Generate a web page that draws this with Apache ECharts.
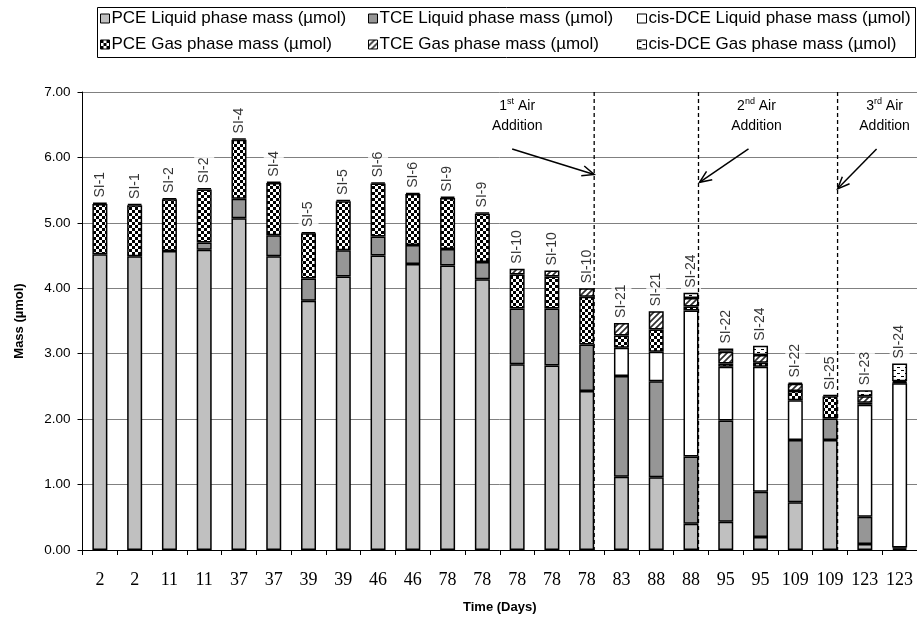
<!DOCTYPE html>
<html>
<head>
<meta charset="utf-8">
<script src="https://cdn.jsdelivr.net/npm/echarts@6/dist/echarts.min.js"></script>
<style>
html,body{margin:0;padding:0;background:#fff;}
#chart{width:917px;height:619px;}
</style>
</head>
<body>
<div id="chart"></div>
<script>
// ---- data ----
const days = ['2','2','11','11','37','37','39','39','46','46','78','78','78','78','78','83','88','88','95','95','109','109','123','123'];
const sampleIds = ['SI-1','SI-1','SI-2','SI-2','SI-4','SI-4','SI-5','SI-5','SI-6','SI-6','SI-9','SI-9','SI-10','SI-10','SI-10','SI-21','SI-21','SI-24','SI-22','SI-24','SI-22','SI-25','SI-23','SI-24'];
const pceLiquid = [4.52,4.49,4.57,4.59,5.07,4.49,3.81,4.18,4.50,4.37,4.35,4.14,2.84,2.82,2.43,1.12,1.11,0.40,0.43,0.20,0.73,1.68,0.09,0.02];
const tceLiquid = [0,0,0,0.11,0.30,0.32,0.34,0.40,0.29,0.29,0.25,0.26,0.85,0.87,0.71,1.54,1.47,1.03,1.55,0.69,0.95,0.33,0.42,0.02];
const cisLiquid = [0,0,0,0,0,0,0,0,0,0,0,0,0,0,0,0.43,0.45,2.23,0.82,1.91,0.61,0,1.71,2.51];
const pceGas    = [0.77,0.78,0.79,0.81,0.90,0.80,0.69,0.75,0.81,0.78,0.78,0.74,0.52,0.49,0.73,0.19,0.34,0.06,0.05,0.06,0.14,0.34,0.03,0.01];
const tceGas    = [0.02,0.02,0.02,0.02,0.02,0.02,0.02,0.02,0.02,0.02,0.02,0.02,0.09,0.09,0.13,0.19,0.28,0.13,0.18,0.12,0.11,0.02,0.10,0.02];
const cisGas    = [0,0,0,0,0,0,0,0,0,0,0,0,0,0,0,0,0,0.08,0.05,0.14,0.02,0,0.09,0.27];
const yTicks = [0,1,2,3,4,5,6,7];
const airAdditions = [
  {label:'1', sup:'st', afterIndex:14},
  {label:'2', sup:'nd', afterIndex:17},
  {label:'3', sup:'rd', afterIndex:21}
];

// ---- patterns ----
function pattern(kind){
  const c = document.createElement('canvas');
  const g = c.getContext('2d');
  if(kind==='checker'){
    c.width=6;c.height=6;
    g.fillStyle='#fff';g.fillRect(0,0,6,6);
    g.fillStyle='#000';g.fillRect(0,0,3,3);g.fillRect(3,3,3,3);
  } else if(kind==='hatch'){
    c.width=6;c.height=6;
    g.fillStyle='#fff';g.fillRect(0,0,6,6);
    g.strokeStyle='#303030';g.lineWidth=1.7;
    g.beginPath();
    g.moveTo(-1,7);g.lineTo(7,-1);
    g.moveTo(-1,1);g.lineTo(1,-1);
    g.moveTo(5,7);g.lineTo(7,5);
    g.stroke();
  } else if(kind==='dash'){
    c.width=8;c.height=6;
    g.fillStyle='#fff';g.fillRect(0,0,8,6);
    g.fillStyle='#000';
    g.fillRect(1,1,3,1);g.fillRect(5,4,3,1);
  }
  return {image:c, repeat:'repeat'};
}

const seriesDefs = [
  {name:'PCE Liquid phase mass (\u00b5mol)', data:pceLiquid, color:'#c0c0c0'},
  {name:'TCE Liquid phase mass (\u00b5mol)', data:tceLiquid, color:'#969696'},
  {name:'cis-DCE Liquid phase mass (\u00b5mol)', data:cisLiquid, color:'#ffffff'},
  {name:'PCE Gas phase mass (\u00b5mol)', data:pceGas, color:pattern('checker')},
  {name:'TCE Gas phase mass (\u00b5mol)', data:tceGas, color:pattern('hatch')},
  {name:'cis-DCE Gas phase mass (\u00b5mol)', data:cisGas, color:pattern('dash')}
];
const totals = days.map((d,i)=>seriesDefs.reduce((s,sd)=>s+sd.data[i],0));

const BAR_W = 15;
const series = seriesDefs.map(sd=>({
  name: sd.name,
  type:'bar',
  stack:'mass',
  barWidth: BAR_W,
  data: sd.data.map(v=> v>0 ? v : null),
  itemStyle:{color: sd.color, borderColor:'#000', borderWidth:1.5},
  emphasis:{disabled:true},
  z:3
}));
series.push({
  name:'labels',
  type:'scatter',
  data: totals.map((t,i)=>[i,t]),
  symbolSize:0,
  silent:true,
  z:4,
  label:{
    show:true, position:'top', rotate:90, align:'left', verticalAlign:'middle',
    distance:2,
    formatter:p=>sampleIds[p.dataIndex],
    fontFamily:'Liberation Sans, Arial', fontSize:14, color:'#000',
    backgroundColor:'#fff', padding:[3,3,3,3]
  }
});

const FONT = 'Liberation Sans, Arial';
// legend layout: 3 columns x 2 rows inside a framed box
const legendCols = [100, 368, 637];
const legendRows = [10, 36];
const legends = seriesDefs.map((sd,i)=>({
  data:[sd.name],
  left: legendCols[i%3], top: legendRows[Math.floor(i/3)],
  padding:0, itemWidth:9, itemHeight:9, itemGap:0,
  selectedMode:false, icon:'rect',
  itemStyle:{borderColor:'#000', borderWidth:1},
  textStyle:{fontFamily:FONT, fontSize:17, color:'#000', padding:[0,0,0,-3]}
}));

const chart = echarts.init(document.getElementById('chart'), null, {renderer:'canvas'});
chart.setOption({
  animation:false,
  backgroundColor:'#fff',
  legend: legends,
  grid:{left:82.5, right:-3, top:92, bottom:59, containLabel:false},
  xAxis:{
    type:'category',
    data: days,
    name:'Time (Days)', nameLocation:'middle', nameGap:51,
    nameTextStyle:{fontFamily:FONT, fontWeight:'bold', fontSize:13, color:'#000'},
    axisLine:{lineStyle:{color:'#000', width:1}},
    axisTick:{show:true, interval:0, length:5, lineStyle:{color:'#000'}},
    axisLabel:{interval:0, margin:21, fontFamily:'Liberation Serif, Times New Roman', fontSize:18, color:'#000'},
    splitLine:{show:false}
  },
  yAxis:{
    type:'value', min:yTicks[0], max:yTicks[yTicks.length-1], interval:1,
    name:'Mass (\u00b5mol)', nameLocation:'middle', nameGap:57,
    nameTextStyle:{fontFamily:FONT, fontWeight:'bold', fontSize:13, color:'#000'},
    axisLine:{show:true, lineStyle:{color:'#000', width:1}},
    axisTick:{show:true, length:5, lineStyle:{color:'#000'}},
    axisLabel:{margin:12, formatter:v=>v.toFixed(2), fontFamily:FONT, fontSize:13.5, color:'#000'},
    splitLine:{show:true, lineStyle:{color:'#808080', width:1}}
  },
  series: series
});

// ---- annotations (positioned from the axes) ----
function px(i, v){ return chart.convertToPixel({gridIndex:0}, [i, v]); }
const graphics = [
  {type:'rect', z:0, silent:true, shape:{x:97.5, y:7.5, width:818, height:50},
   style:{fill:'#fff', stroke:'#000', lineWidth:1}}
];
const arrowSpec = [
  {dxStart:-82, vStart:6.13, dxEnd:0, vEnd:5.74, dxText:-77},
  {dxStart:50, vStart:6.13, dxEnd:1, vEnd:5.62, dxText:58},
  {dxStart:39, vStart:6.13, dxEnd:0, vEnd:5.52, dxText:47}
];
airAdditions.forEach((a,k)=>{
  const top = px(a.afterIndex, 7), bot = px(a.afterIndex, 0);
  const x = top[0] + BAR_W/2;
  graphics.push({type:'line', z:100, shape:{x1:x, y1:top[1], x2:x, y2:bot[1]},
    style:{stroke:'#000', lineWidth:1.3, lineDash:[4,3]}});
  const s = arrowSpec[k];
  const ys = px(0, s.vStart)[1], ye = px(0, s.vEnd)[1];
  const x1 = x + s.dxStart, x2 = x + s.dxEnd;
  graphics.push({type:'line', z:100, shape:{x1:x1, y1:ys, x2:x2, y2:ye}, style:{stroke:'#000', lineWidth:1.5}});
  const ang = Math.atan2(ye-ys, x2-x1), L = 13, sp = 0.4;
  graphics.push({type:'polyline', z:100, shape:{points:[
    [x2 - L*Math.cos(ang-sp), ye - L*Math.sin(ang-sp)], [x2, ye],
    [x2 - L*Math.cos(ang+sp), ye - L*Math.sin(ang+sp)]]}, style:{stroke:'#000', lineWidth:1.5, fill:null}});
  const ty = px(0, 6.93)[1];
  graphics.push({type:'text', z:100, x: x + s.dxText, y: ty, style:{
    text:'{n|'+a.label+'}{s|'+a.sup+'}{n| Air}\n{n|Addition}',
    align:'center', verticalAlign:'top',
    fontFamily:FONT, fontSize:14, fill:'#000',
    rich:{
      n:{fontFamily:FONT, fontSize:14, lineHeight:20, verticalAlign:'middle'},
      s:{fontFamily:FONT, fontSize:9, lineHeight:9, verticalAlign:'top'}
    }
  }});
});
chart.setOption({graphic: graphics});
</script>
</body>
</html>
